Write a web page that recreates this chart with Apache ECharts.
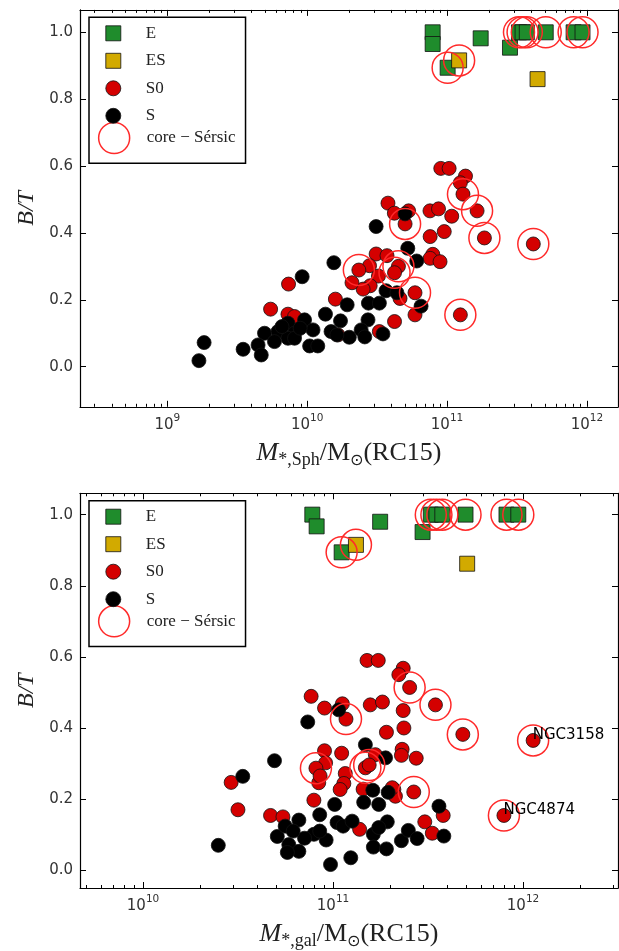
<!DOCTYPE html>
<html>
<head>
<meta charset="utf-8">
<script src="https://cdn.jsdelivr.net/npm/echarts@6/dist/echarts.min.js"></script>
<style>
  html, body { margin: 0; padding: 0; background: #fff; }
  #chart { width: 619px; height: 951px; }
</style>
</head>
<body>
<div id="chart"></div>
<script>
// ---------------------------------------------------------------
// Bulge-to-total ratio against stellar mass (RC15 mass-to-light).
// Upper panel: spheroid mass; lower panel: total galaxy mass.
// *_core flags mark core-Sersic galaxies (drawn with an open ring).
// ---------------------------------------------------------------

// ---- upper panel: M*,Sph ----
const sphE_mass = [7.89e10, 7.89e10, 1.01e11, 1.74e11, 2.82e11, 3.27e11, 3.47e11, 3.72e11, 5.08e11, 8.04e11, 9.31e11];
const sphE_bt   = [1.0, 0.965, 0.894, 0.982, 0.954, 1.0, 1.0, 1.0, 1.0, 1.0, 1.0];
const sphE_core = [0, 0, 1, 0, 0, 1, 1, 1, 1, 1, 1];

const sphES_mass = [1.22e11, 4.44e11];
const sphES_bt   = [0.916, 0.86];
const sphES_core = [1, 0];

const sphS0_mass = [9.02e10, 1.035e11, 1.355e11, 1.245e11, 1.30e11, 1.64e11, 1.85e11, 4.14e11, 3.78e10, 4.20e10,
                    5.31e10, 5.01e10, 7.55e10, 8.69e10, 1.08e11, 7.57e10, 9.55e10, 7.91e10, 7.57e10, 8.91e10,
                    3.11e10, 3.72e10, 2.79e10, 2.34e10, 4.49e10, 4.21e10, 3.23e10, 2.82e10, 2.51e10, 5.90e10,
                    4.61e10, 5.90e10, 1.245e11, 4.21e10, 3.28e10, 7.35e9, 5.47e9, 2.09e10, 1.59e10, 7.28e9,
                    8.11e9, 1.66e10];
const sphS0_bt   = [0.593, 0.593, 0.570, 0.550, 0.516, 0.466, 0.385, 0.367, 0.489, 0.459,
                    0.466, 0.427, 0.466, 0.472, 0.450, 0.389, 0.404, 0.336, 0.324, 0.314,
                    0.337, 0.332, 0.302, 0.289, 0.300, 0.281, 0.271, 0.242, 0.232, 0.221,
                    0.204, 0.155, 0.155, 0.135, 0.105, 0.247, 0.172, 0.251, 0.202, 0.157,
                    0.150, 0.095];
const sphS0_core = [0, 0, 0, 0, 1, 1, 1, 1, 0, 0,
                    0, 1, 0, 0, 0, 0, 0, 0, 0, 0,
                    0, 0, 0, 1, 1, 1, 0, 0, 0, 1,
                    0, 0, 1, 0, 0, 0, 0, 0, 0, 0,
                    0, 0];

const sphS_mass = [5.01e10, 3.11e10, 5.24e10, 6.07e10, 1.55e10, 9.20e9, 3.66e10, 4.38e10, 6.52e10, 2.74e10,
                   3.28e10, 1.93e10, 2.72e10, 3.48e10, 1.35e10, 9.57e9, 1.73e10, 7.28e9, 4.95e9, 6.18e9,
                   8.11e9, 1.10e10, 1.48e10, 2.00e10, 4.45e9, 5.83e9, 7.28e9, 8.11e9, 1.04e10, 1.19e10,
                   4.69e9, 3.48e9, 1.83e9, 1.68e9, 2.43e10, 2.58e10, 1.63e10, 6.6e9, 8.9e9];
const sphS_bt   = [0.457, 0.419, 0.354, 0.316, 0.311, 0.269, 0.227, 0.221, 0.181, 0.190,
                   0.190, 0.185, 0.140, 0.098, 0.157, 0.140, 0.137, 0.130, 0.100, 0.105,
                   0.100, 0.110, 0.105, 0.088, 0.065, 0.075, 0.085, 0.085, 0.062, 0.062,
                   0.035, 0.052, 0.072, 0.018, 0.110, 0.089, 0.095, 0.120, 0.115];
const sphS_core = sphS_mass.map(() => 0);

// ---- lower panel: M*,gal ----
const galE_mass = [7.78e10, 8.2e10, 1.11e11, 1.77e11, 2.96e11, 3.27e11, 3.5e11, 3.76e11, 4.98e11, 8.18e11, 9.44e11];
const galE_bt   = [1.0, 0.967, 0.894, 0.98, 0.951, 1.0, 1.0, 1.0, 1.0, 1.0, 1.0];
const galE_core = [0, 0, 1, 0, 0, 1, 1, 1, 1, 1, 1];

const galES_mass = [1.32e11, 5.08e11];
const galES_bt   = [0.915, 0.862];
const galES_core = [1, 0];

const galS0_mass = [1.51e11, 1.73e11, 2.34e11, 2.22e11, 2.53e11, 3.46e11, 4.82e11, 1.13e12, 7.93e11, 1.57e11,
                    1.82e11, 2.34e11, 1.91e11, 2.36e11, 1.67e11, 2.31e11, 2.29e11, 2.74e11, 1.48e11, 1.55e11,
                    2.66e11, 2.09e11, 2.13e11, 3.80e11, 3.04e11, 3.33e11, 7.67e10, 9.02e10, 1.12e11, 1.17e11,
                    9.02e10, 1.11e11, 9.14e10, 8.13e10, 8.41e10, 1.16e11, 1.14e11, 1.09e11, 7.93e10, 2.91e10,
                    3.16e10, 4.69e10, 5.45e10, 1.38e11, 1.44e11, 2.05e11, 8.55e10];
const galS0_bt   = [0.590, 0.590, 0.568, 0.550, 0.514, 0.465, 0.382, 0.365, 0.154, 0.465,
                    0.473, 0.449, 0.388, 0.400, 0.325, 0.340, 0.323, 0.315, 0.288, 0.296,
                    0.220, 0.227, 0.208, 0.154, 0.136, 0.104, 0.489, 0.456, 0.468, 0.425,
                    0.336, 0.329, 0.302, 0.287, 0.246, 0.272, 0.244, 0.227, 0.197, 0.247,
                    0.170, 0.154, 0.150, 0.115, 0.228, 0.232, 0.265];
const galS0_core = [0, 0, 0, 0, 1, 1, 1, 1, 1, 0,
                    0, 0, 0, 0, 0, 0, 0, 0, 1, 1,
                    1, 0, 0, 0, 0, 0, 0, 0, 0, 1,
                    0, 0, 0, 1, 0, 0, 0, 0, 0, 0,
                    0, 0, 0, 0, 0, 0, 0];
// named galaxies (index into the galS0 arrays)
const galS0_nameIdx  = [7, 8];
const galS0_nameText = ['NGC3158', 'NGC4874'];

const galS_mass = [1.07e11, 7.36e10, 4.92e10, 3.35e10, 1.48e11, 1.89e11, 1.62e11, 1.95e11, 1.45e11, 1.74e11,
                   3.61e11, 1.93e11, 3.83e11, 1.02e11, 8.51e10, 2.49e10, 9.70e10, 1.24e11, 5.09e10, 5.60e10,
                   6.61e10, 5.85e10, 6.61e10, 7.93e10, 1.05e11, 1.13e11, 1.26e11, 9.20e10, 1.63e11, 1.63e11,
                   1.91e11, 2.29e11, 2.49e11, 2.77e11, 7.08e10, 6.17e10, 8.51e10, 5.75e10, 1.74e11];
const galS_bt   = [0.451, 0.417, 0.308, 0.264, 0.353, 0.316, 0.225, 0.219, 0.191, 0.185,
                   0.180, 0.136, 0.096, 0.185, 0.156, 0.070, 0.016, 0.035, 0.095, 0.124,
                   0.141, 0.072, 0.053, 0.101, 0.134, 0.124, 0.138, 0.085, 0.101, 0.065,
                   0.060, 0.083, 0.112, 0.089, 0.090, 0.110, 0.110, 0.050, 0.120];
const galS_core = galS_mass.map(() => 0);

// ---- axes ----
const yTicks = [0.0, 0.2, 0.4, 0.6, 0.8, 1.0];
const sphXRange = [2.37e8, 1.67e12];
const galXRange = [4.66e9, 3.16e12];
const sphYRange = [-0.12, 1.067];
const galYRange = [-0.05, 1.06];

// ---- style ----
const colE = '#1f8c2c', colES = '#d2aa00', colS0 = '#d40000', colS = '#000000', colCore = '#ff2a2a';
const serif = "'Liberation Serif', 'DejaVu Serif', serif";
const sans = "'DejaVu Sans', sans-serif";
const CORE_NAME = 'core \u2212 S\u00e9rsic';

function pairs(mass, bt) { return mass.map((m, i) => [m, bt[i]]); }
function corePairs(list) {
  const out = [];
  list.forEach(([mass, bt, core]) => mass.forEach((m, i) => { if (core[i]) out.push([m, bt[i]]); }));
  return out;
}
function minorTicks(range) {
  const v = [];
  for (let e = Math.floor(Math.log10(range[0])); e <= Math.ceil(Math.log10(range[1])); e++) {
    for (let k = 2; k <= 9; k++) {
      const t = k * Math.pow(10, e);
      if (t > range[0] && t < range[1]) v.push(t);
    }
  }
  return v;
}

const tickLabelRich = {
  b: { fontFamily: sans, fontSize: 15, color: '#333', lineHeight: 24 },
  s: { fontFamily: sans, fontSize: 10.5, color: '#333', lineHeight: 10, verticalAlign: 'top' }
};
function powLabel(v) {
  const l = Math.log10(v), e = Math.round(l);
  if (Math.abs(l - e) > 1e-6) return '';
  return '{b|10}{s|' + e + '}';
}

function xTitleRich() {
  return {
    mi: { fontFamily: serif, fontStyle: 'italic', fontSize: 26, color: '#222', lineHeight: 32 },
    rm: { fontFamily: serif, fontSize: 26, color: '#222', lineHeight: 32 },
    sub: { fontFamily: serif, fontSize: 18, color: '#222', lineHeight: 14, verticalAlign: 'bottom' },
    sun: { fontFamily: sans, fontSize: 16, color: '#222', lineHeight: 14, verticalAlign: 'bottom' }
  };
}

const frame = { show: true, onZero: false, lineStyle: { color: '#000', width: 1.2 } };
const noLine = { show: false, onZero: false };

function buildPanel(idx, grid, xr, yr, subText, sets, names) {
  const xBase = { gridIndex: idx, type: 'log', logBase: 10, min: xr[0], max: xr[1], splitLine: { show: false } };
  const minors = minorTicks(xr);
  const xAxes = [
    Object.assign({}, xBase, {
      position: 'bottom', axisLine: frame,
      axisTick: { inside: true, length: 6, lineStyle: { color: '#000', width: 1 } },
      axisLabel: { formatter: powLabel, rich: tickLabelRich, margin: 6, showMinLabel: false, showMaxLabel: false },
      name: '{mi|M}{sub|*,' + subText + '}{rm|/M}{sun|\u2299}{rm|(RC15)}',
      nameLocation: 'middle', nameGap: 30, nameTextStyle: { rich: xTitleRich() }
    }),
    Object.assign({}, xBase, {
      position: 'bottom', axisLine: noLine,
      axisTick: { inside: true, length: 3, customValues: minors, lineStyle: { color: '#000', width: 1 } },
      axisLabel: { show: false }
    }),
    Object.assign({}, xBase, {
      position: 'top', axisLine: frame,
      axisTick: { inside: true, length: 6, lineStyle: { color: '#000', width: 1 } },
      axisLabel: { show: false }
    }),
    Object.assign({}, xBase, {
      position: 'top', axisLine: noLine,
      axisTick: { inside: true, length: 3, customValues: minors, lineStyle: { color: '#000', width: 1 } },
      axisLabel: { show: false }
    })
  ];
  const yBase = { gridIndex: idx, type: 'value', min: yr[0], max: yr[1], splitLine: { show: false } };
  const yAxes = [
    Object.assign({}, yBase, {
      position: 'left', axisLine: frame,
      axisTick: { inside: true, length: 6, customValues: yTicks, lineStyle: { color: '#000', width: 1 } },
      axisLabel: { customValues: yTicks, formatter: v => v.toFixed(1), fontFamily: sans, fontSize: 15, color: '#333', margin: 7 },
      name: 'B/T', nameLocation: 'middle', nameRotate: 90, nameGap: 40,
      nameTextStyle: { fontFamily: serif, fontStyle: 'italic', fontSize: 24, color: '#222' }
    }),
    Object.assign({}, yBase, {
      position: 'right', axisLine: frame,
      axisTick: { inside: true, length: 6, customValues: yTicks, lineStyle: { color: '#000', width: 1 } },
      axisLabel: { show: false }
    })
  ];
  const xi = idx * 4, yi = idx * 2;
  const edge = { borderColor: '#111', borderWidth: 0.8, opacity: 1 };
  const s0Data = pairs(sets.S0[0], sets.S0[1]).map((p, i) => {
    const k = names ? names.idx.indexOf(i) : -1;
    if (k < 0) return p;
    return {
      value: p, name: names.text[k],
      label: { show: true, formatter: '{b}', position: [7, 2], align: 'left', verticalAlign: 'middle',
               fontFamily: sans, fontSize: 15, color: '#000' }
    };
  });
  const series = [
    { type: 'scatter', name: 'E', xAxisIndex: xi, yAxisIndex: yi, symbol: 'rect', symbolSize: 15,
      itemStyle: Object.assign({ color: colE }, edge), data: pairs(sets.E[0], sets.E[1]) },
    { type: 'scatter', name: 'ES', xAxisIndex: xi, yAxisIndex: yi, symbol: 'rect', symbolSize: 15,
      itemStyle: Object.assign({ color: colES }, edge), data: pairs(sets.ES[0], sets.ES[1]) },
    { type: 'scatter', name: 'S0', xAxisIndex: xi, yAxisIndex: yi, symbol: 'circle', symbolSize: 14,
      itemStyle: Object.assign({ color: colS0 }, edge), data: s0Data },
    { type: 'scatter', name: 'S', xAxisIndex: xi, yAxisIndex: yi, symbol: 'circle', symbolSize: 14,
      itemStyle: Object.assign({ color: colS }, edge), data: pairs(sets.S[0], sets.S[1]) },
    { type: 'scatter', name: CORE_NAME, xAxisIndex: xi, yAxisIndex: yi, symbol: 'circle', symbolSize: 31,
      itemStyle: { color: 'rgba(0,0,0,0)', borderColor: colCore, borderWidth: 1.5, opacity: 1 },
      data: corePairs([sets.E, sets.ES, sets.S0, sets.S]) }
  ];
  const boxTop = grid.top + 7.4;
  const legendText = { fontFamily: serif, fontSize: 17, color: '#222', lineHeight: 15 };
  const legends = [
    { left: 89, top: boxTop, orient: 'vertical', selectedMode: false, z: 5,
      padding: [104.4, 10, 9, 8.9], itemWidth: 31, itemHeight: 31,
      borderColor: '#000', borderWidth: 1.5, backgroundColor: '#fff', borderRadius: 0,
      textStyle: Object.assign({ padding: [0, 0, 0, 12] }, legendText),
      data: [{ name: CORE_NAME, icon: 'circle', itemStyle: { color: 'rgba(0,0,0,0)', borderColor: colCore, borderWidth: 1.5 } }] },
    { left: 89, top: boxTop, orient: 'vertical', selectedMode: false, z: 6,
      padding: [7.5, 0, 0, 16.4], itemWidth: 15, itemHeight: 15, itemGap: 10.5,
      textStyle: Object.assign({ padding: [0, 0, 0, 20] }, legendText),
      data: [
        { name: 'E', icon: 'rect', itemStyle: Object.assign({ color: colE }, edge) },
        { name: 'ES', icon: 'rect', itemStyle: Object.assign({ color: colES }, edge) },
        { name: 'S0', icon: 'circle', itemStyle: Object.assign({ color: colS0 }, edge) },
        { name: 'S', icon: 'circle', itemStyle: Object.assign({ color: colS }, edge) }
      ] }
  ];
  return { xAxes, yAxes, series, legends };
}

const grids = [
  { left: 80, right: 1, top: 9.9, height: 396.9 },
  { left: 80, right: 1, top: 493.3, height: 395.2 }
];

const panelSph = buildPanel(0, grids[0], sphXRange, sphYRange, 'Sph', {
  E: [sphE_mass, sphE_bt, sphE_core], ES: [sphES_mass, sphES_bt, sphES_core],
  S0: [sphS0_mass, sphS0_bt, sphS0_core], S: [sphS_mass, sphS_bt, sphS_core]
}, null);
const panelGal = buildPanel(1, grids[1], galXRange, galYRange, 'gal', {
  E: [galE_mass, galE_bt, galE_core], ES: [galES_mass, galES_bt, galES_core],
  S0: [galS0_mass, galS0_bt, galS0_core], S: [galS_mass, galS_bt, galS_core]
}, { idx: galS0_nameIdx, text: galS0_nameText });

const chart = echarts.init(document.getElementById('chart'), null, { renderer: 'canvas' });
chart.setOption({
  animation: false,
  backgroundColor: '#fff',
  grid: grids,
  xAxis: panelSph.xAxes.concat(panelGal.xAxes),
  yAxis: panelSph.yAxes.concat(panelGal.yAxes),
  legend: panelSph.legends.concat(panelGal.legends),
  series: panelSph.series.concat(panelGal.series)
});
</script>
</body>
</html>
